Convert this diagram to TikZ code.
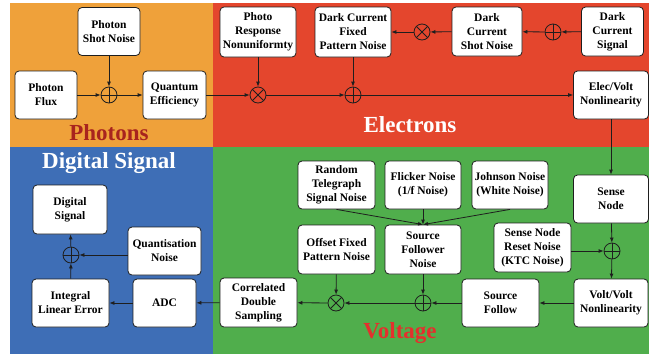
\documentclass[tikz,border=0pt]{standalone}
\usepackage{fontspec}
\setmainfont{Liberation Serif}
\usetikzlibrary{arrows.meta}
\definecolor{bgorange}{RGB}{239,161,58}
\definecolor{bgred}{RGB}{228,70,45}
\definecolor{bgblue}{RGB}{62,110,182}
\definecolor{bggreen}{RGB}{80,174,76}
\definecolor{phtext}{RGB}{168,36,30}
\definecolor{vtext}{RGB}{228,48,45}
\definecolor{ink}{RGB}{30,30,30}
\tikzset{
  box/.style={draw=ink, fill=white, rounded corners=4pt, line width=0.8pt,
    minimum height=48pt, align=center, inner sep=1pt,
    font=\rmfamily\bfseries\fontsize{11.5}{14}\selectfont},
  plusc/.style={circle, draw=ink, line width=0.8pt, minimum size=16pt, inner sep=0pt,
    path picture={\draw[ink, line width=0.8pt] (path picture bounding box.north) -- (path picture bounding box.south)
      (path picture bounding box.west) -- (path picture bounding box.east);}},
  timesc/.style={circle, draw=ink, line width=0.8pt, minimum size=16pt, inner sep=0pt,
    path picture={\draw[ink, line width=0.8pt] (path picture bounding box.north west) -- (path picture bounding box.south east)
      (path picture bounding box.south west) -- (path picture bounding box.north east);}},
  arr/.style={draw=ink, line width=0.8pt, -{Latex[length=5pt,width=4pt]}},
  region/.style={font=\rmfamily\bfseries\fontsize{23}{26}\selectfont}
}
\begin{document}
\begin{tikzpicture}[x=1pt,y=-1pt]
\useasboundingbox (0,0) rectangle (650,354);
% backgrounds
\fill[bgorange] (10,3) rectangle (213,147);
\fill[bgred] (213,3) rectangle (649,147);
\fill[bgblue] (10,147) rectangle (213,354);
\fill[bggreen] (213,147) rectangle (649,354);
% region labels
\node[region, text=phtext] (lphot) at (109,133) {Photons};
\node[region, text=white] (lelec) at (410,125) {Electrons};
\node[region, text=white] (ldig) at (109,163) {Digital Signal};
\node[region, text=vtext] (lvolt) at (400,333) {Voltage};
% photons
\node[box, minimum width=62pt] (shot) at (109,31.5) {Photon\\Shot Noise};
\node[box, minimum width=62pt] (flux) at (46,95) {Photon\\Flux};
\node[plusc] (s1) at (109,95) {};
\node[box, minimum width=63pt] (qe) at (174.5,95) {Quantum\\Efficiency};
% electrons
\node[box, minimum width=76pt, minimum height=50pt] (prnu) at (258,32) {Photo\\Response\\Nonuniformty};
\node[timesc] (m1) at (258,95) {};
\node[box, minimum width=76pt, minimum height=50pt] (dcfpn) at (353,32) {Dark Current\\Fixed\\Pattern Noise};
\node[plusc] (s2) at (353,95) {};
\node[timesc] (m2) at (422,32) {};
\node[box, minimum width=70pt, minimum height=49pt] (dcsn) at (487,31.5) {Dark\\Current\\Shot Noise};
\node[plusc] (s3) at (553,32) {};
\node[box, minimum width=62pt, minimum height=49pt] (dcs) at (612.5,31.5) {Dark\\Current\\Signal};
\node[box, minimum width=75pt] (ev) at (611,95) {Elec/Volt\\Nonlinearity};
% voltage
\node[box, minimum width=75pt] (sn) at (611,199) {Sense\\Node};
\node[box, minimum width=77pt, minimum height=49pt] (snr) at (532.5,247.5) {Sense Node\\Reset Noise\\(KTC Noise)};
\node[plusc] (s4) at (612,251) {};
\node[box, minimum width=74pt] (vv) at (611,303) {Volt/Volt\\Nonlinearity};
\node[box, minimum width=77pt] (sf) at (500.5,303) {Source\\Follow};
\node[box, minimum width=77pt] (rtsn) at (336.5,185) {Random\\Telegraph\\Signal Noise};
\node[box, minimum width=76pt] (flk) at (423,185) {Flicker Noise\\(1/f Noise)};
\node[box, minimum width=76pt] (jn) at (510,185) {Johnson Noise\\(White Noise)};
\node[box, minimum width=77pt, minimum height=49pt] (ofpn) at (336.5,249.5) {Offset Fixed\\Pattern Noise};
\node[box, minimum width=76pt, minimum height=49pt] (sfn) at (423,249.5) {Source\\Follower\\Noise};
\node[plusc] (s5) at (423,303) {};
\node[timesc] (m3) at (336,303) {};
\node[box, minimum width=77pt, minimum height=49pt] (cds) at (258.5,302.5) {Correlated\\Double\\Sampling};
% digital
\node[box, minimum width=63pt] (adc) at (164.5,303) {ADC};
\node[box, minimum width=77pt] (ile) at (70.5,303) {Integral\\Linear Error};
\node[plusc] (s6) at (71,255) {};
\node[box, minimum width=73pt] (qn) at (164.5,251) {Quantisation\\Noise};
\node[box, minimum width=74pt, minimum height=49pt] (ds) at (70,209.5) {Digital\\Signal};
% connectors
\draw[arr] (flux) -- (s1);
\draw[arr] (shot) -- (s1);
\draw[arr] (s1) -- (qe);
\draw[arr] (qe) -- (m1);
\draw[arr] (prnu) -- (m1);
\draw[arr] (m1) -- (s2);
\draw[arr] (dcfpn) -- (s2);
\draw[arr] (s2) -- (ev);
\draw[arr] (dcs) -- (s3);
\draw[arr] (s3) -- (dcsn);
\draw[arr] (dcsn) -- (m2);
\draw[arr] (m2) -- (dcfpn.east |- m2);
\draw[arr] (ev) -- (sn);
\draw[arr] (sn) -- (s4);
\draw[arr] (snr.east |- s4) -- (s4);
\draw[arr] (s4) -- (vv);
\draw[arr] (vv) -- (sf);
\draw[arr] (sf) -- (s5);
\draw[arr] (sfn) -- (s5);
\draw[arr] (s5) -- (m3);
\draw[arr] (ofpn) -- (m3);
\draw[arr] (m3) -- (cds);
\draw[arr] (cds) -- (adc);
\draw[arr] (adc) -- (ile);
\draw[arr] (ile) -- (s6);
\draw[arr] (qn.west |- s6) -- (s6);
\draw[arr] (s6) -- (ds);
\draw[arr] (rtsn.south) -- (sfn.north);
\draw[arr] (flk) -- (sfn);
\draw[arr] (jn.south) -- (sfn.north);
\end{tikzpicture}
\end{document}
